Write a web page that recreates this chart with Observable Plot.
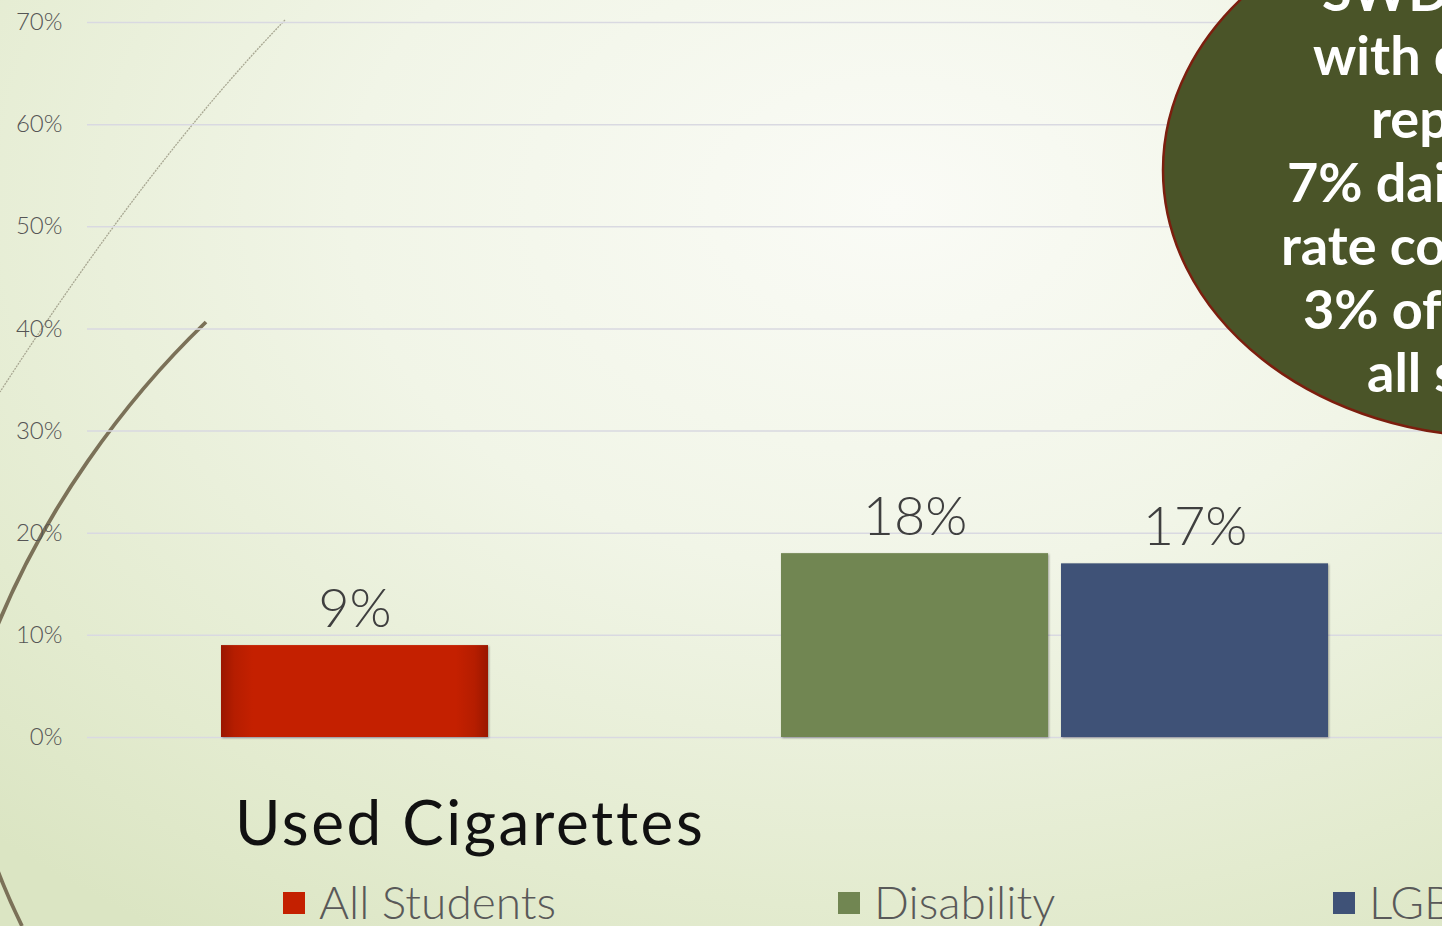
<!DOCTYPE html>
<html>
<head>
<meta charset="utf-8">
<script src="https://cdn.jsdelivr.net/npm/d3@7"></script>
<script src="https://cdn.jsdelivr.net/npm/@observablehq/plot@0.6"></script>
<style>
  html, body { margin: 0; padding: 0; }
  body {
    width: 1442px; height: 926px; overflow: hidden; position: relative;
    font-family: Lato, "Open Sans", sans-serif;
    background: radial-gradient(ellipse 90% 95% at 62% 22%, #fafbf6 0%, #f1f5e7 42%, #e3ebcf 80%, #dbe5c3 100%);
  }
  #deco, #chart, #note { position: absolute; left: 0; top: 0; }
  #deco { z-index: 0; }
  #chart { z-index: 1; }
  #note { z-index: 2; }
  #chart rect.bar { filter: drop-shadow(1px 1px 1.2px rgba(0,0,0,0.35)); }
  #title {
    position: absolute; left: 235px; top: 790px; z-index: 3;
    font-size: 62px; line-height: 1; font-weight: 400; color: #111; white-space: nowrap;
    letter-spacing: 2.6px;
  }
  .leg { position: absolute; z-index: 3; top: 879px; font-size: 46px; line-height: 1; font-weight: 300; color: #595959; white-space: nowrap; }
  .leg .sw { position: absolute; width: 22px; height: 22px; top: 13px; }
</style>
</head>
<body>
<svg id="deco" width="1442" height="926">
  <path d="M285,20 Q150,160 0,392" fill="none" stroke="#a8a792" stroke-width="1.3" stroke-dasharray="2 1"/>
  <path d="M206,322 C130,395 40,510 -12,650 C-45,745 -25,830 22,926" fill="none" stroke="#7b7158" stroke-width="3.8"/>
</svg>
<div id="chart"></div>
<svg id="note" width="1442" height="926"></svg>
<div id="title"></div>
<div id="legend"></div>
<script>
// ---- data ----
const chartTitle = "Used Cigarettes";
const series = ["All Students", "Disability", "LGB"];
const values = [0.09, 0.18, 0.17];
const slots = ["All Students", "(no data)", "Disability", "LGB"];
const seriesColors = ["url(#redBevel)", "#718652", "#3F5277"];
const legendSwatch = ["#C42000", "#718652", "#3F5277"];
const yTicks = [0, 0.1, 0.2, 0.3, 0.4, 0.5, 0.6, 0.7];
const noteLines = ["SWD", "with disabilities", "report", "7% daily", "rate compared to", "3% of", "all students"];

const data = series.map((s, i) => ({series: s, value: values[i]}));

const chart = Plot.plot({
  width: 1442,
  height: 760,
  marginLeft: 87,
  marginRight: 0,
  marginTop: 22,
  marginBottom: 23,
  style: {background: "transparent", fontFamily: "Lato, sans-serif", overflow: "visible"},
  x: {domain: slots, range: [220, 1328.5], paddingInner: 0.048, paddingOuter: 0, axis: null},
  y: {domain: [0, 0.7], axis: null},
  color: {domain: series, range: seriesColors},
  marks: [
    Plot.gridY(yTicks, {stroke: "#d9d9e1", strokeOpacity: 1, strokeWidth: 1.5}),
    Plot.axisY(yTicks, {
      label: null,
      tickFormat: d3.format(".0%"), tickSize: 0, tickPadding: 25,
      fontSize: 24, fill: "#555555", fontWeight: 300
    }),
    Plot.barY(data, {x: "series", y: "value", fill: "series", className: "bar"}),
    Plot.text(data, {
      x: "series", y: "value", text: d => d3.format(".0%")(d.value),
      lineAnchor: "bottom", dy: -19, fontSize: 54, fontWeight: 300, fill: "#3f3f3f"
    })
  ]
});

// bevel gradient for the red bar
const ns = "http://www.w3.org/2000/svg";
const defs = document.createElementNS(ns, "defs");
defs.innerHTML = `
  <linearGradient id="redBevel" x1="0" x2="1" y1="0" y2="0">
    <stop offset="0" stop-color="#9a1700"/>
    <stop offset="0.05" stop-color="#b51d00"/>
    <stop offset="0.12" stop-color="#c42000"/>
    <stop offset="0.88" stop-color="#c42000"/>
    <stop offset="0.95" stop-color="#b51d00"/>
    <stop offset="1" stop-color="#9a1700"/>
  </linearGradient>`;
chart.insertBefore(defs, chart.firstChild);
chart.querySelectorAll("rect").forEach(r => r.classList.add("bar"));
document.getElementById("chart").appendChild(chart);

// title
document.getElementById("title").textContent = chartTitle;

// legend
const legendX = [283, 838, 1333];
const legend = document.getElementById("legend");
series.forEach((s, i) => {
  const item = document.createElement("div");
  item.className = "leg";
  item.style.left = (legendX[i] + 36) + "px";
  const sw = document.createElement("span");
  sw.className = "sw";
  sw.style.left = "-36px";
  sw.style.background = legendSwatch[i];
  item.appendChild(sw);
  item.appendChild(document.createTextNode(s));
  legend.appendChild(item);
});

// callout ellipse
const note = document.getElementById("note");
const ell = document.createElementNS(ns, "ellipse");
ell.setAttribute("cx", 1500); ell.setAttribute("cy", 170);
ell.setAttribute("rx", 337); ell.setAttribute("ry", 267);
ell.setAttribute("fill", "#4a5428"); ell.setAttribute("stroke", "#7c1e0e"); ell.setAttribute("stroke-width", 2.5);
note.appendChild(ell);
const lineX = [1322, 1313, 1371, 1287, 1281, 1303, 1367];
noteLines.forEach((t, i) => {
  const tx = document.createElementNS(ns, "text");
  tx.setAttribute("x", lineX[i]);
  tx.setAttribute("y", 11 + i * 63.5);
  tx.setAttribute("fill", "#ffffff");
  tx.setAttribute("font-family", "Lato, sans-serif");
  tx.setAttribute("font-weight", "700");
  tx.setAttribute("font-size", "54");
  tx.textContent = t;
  note.appendChild(tx);
});
</script>
</body>
</html>
